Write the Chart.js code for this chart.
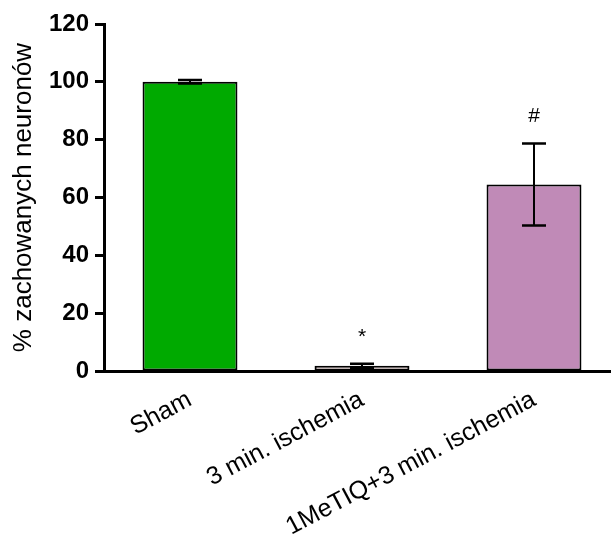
<!DOCTYPE html>
<html>
<head>
<meta charset="utf-8">
<script src="https://cdn.jsdelivr.net/npm/chart.js@4.4.0/dist/chart.umd.min.js"></script>
<style>
  html, body { margin: 0; padding: 0; background: #fff; overflow: hidden; }
  #wrap { width: 611px; height: 541px; overflow: hidden; }
</style>
</head>
<body>
<div id="wrap">
  <canvas id="chart-neurony" width="630" height="541"></canvas>
</div>
<script>
const labels = ['Sham', '3 min. ischemia', '1MeTIQ+3 min. ischemia'];
const means = [100, 1.8, 64.5];
const sem = [0.6, 0.7, 14.2];
const marks = ['', '*', '#'];
const barColors = ['#00aa00', '#fde6e6', '#c08ab7'];
const yTicks = [0, 20, 40, 60, 80, 100, 120];

const FONT = 'Arial, "Liberation Sans", sans-serif';

// error bars (mean ± SEM) and significance marks above them
const errorBars = {
  id: 'errorBars',
  afterDatasetsDraw(chart) {
    const ctx = chart.ctx;
    const y = chart.scales.y;
    const meta = chart.getDatasetMeta(0);
    ctx.save();
    ctx.strokeStyle = '#000';
    meta.data.forEach((bar, i) => {
      const x = bar.x;
      const top = y.getPixelForValue(means[i] + sem[i]);
      const bot = y.getPixelForValue(means[i] - sem[i]);
      const half = 12;
      ctx.lineWidth = 2;
      ctx.beginPath();
      ctx.moveTo(x, top); ctx.lineTo(x, bot);
      ctx.stroke();
      ctx.lineWidth = 2.5;
      ctx.beginPath();
      ctx.moveTo(x - half, top); ctx.lineTo(x + half, top);
      ctx.moveTo(x - half, bot); ctx.lineTo(x + half, bot);
      ctx.stroke();
      if (marks[i]) {
        ctx.fillStyle = '#000';
        ctx.font = '21px ' + FONT;
        ctx.textAlign = 'center';
        ctx.textBaseline = 'alphabetic';
        ctx.fillText(marks[i], x, top - 21);
      }
    });
    ctx.restore();
  }
};

new Chart(document.getElementById('chart-neurony'), {
  type: 'bar',
  data: {
    labels: labels,
    datasets: [{
      data: means,
      backgroundColor: barColors,
      borderColor: '#000',
      borderWidth: 2,
      borderSkipped: false,
      categoryPercentage: 1,
      barPercentage: 0.552
    }]
  },
  options: {
    responsive: false,
    animation: false,
    devicePixelRatio: 1,
    layout: { padding: { top: 24, right: 10, left: 0, bottom: 0 } },
    plugins: {
      legend: { display: false },
      tooltip: { enabled: false },
      title: { display: false }
    },
    scales: {
      x: {
        grid: { display: false, drawTicks: false },
        border: { display: true, color: '#000', width: 3 },
        ticks: {
          color: '#000',
          font: { family: FONT, size: 25 },
          minRotation: 28,
          maxRotation: 28,
          padding: 14
        },
        afterFit(scale) { scale.height = 170; }
      },
      y: {
        min: 0,
        max: 120,
        afterBuildTicks(scale) { scale.ticks = yTicks.map(v => ({ value: v })); },
        grid: {
          display: true,
          drawOnChartArea: false,
          drawTicks: true,
          tickLength: 9,
          tickWidth: 3,
          tickColor: '#000'
        },
        border: { display: true, color: '#000', width: 3 },
        ticks: {
          color: '#000',
          font: { family: FONT, size: 24, weight: 'bold' },
          padding: 6
        },
        title: {
          display: true,
          text: '% zachowanych neuronów',
          color: '#000',
          font: { family: FONT, size: 26 },
          padding: { top: 8, bottom: 0 }
        },
        afterFit(scale) { scale.width = 104; }
      }
    }
  },
  plugins: [errorBars]
});
</script>
</body>
</html>
